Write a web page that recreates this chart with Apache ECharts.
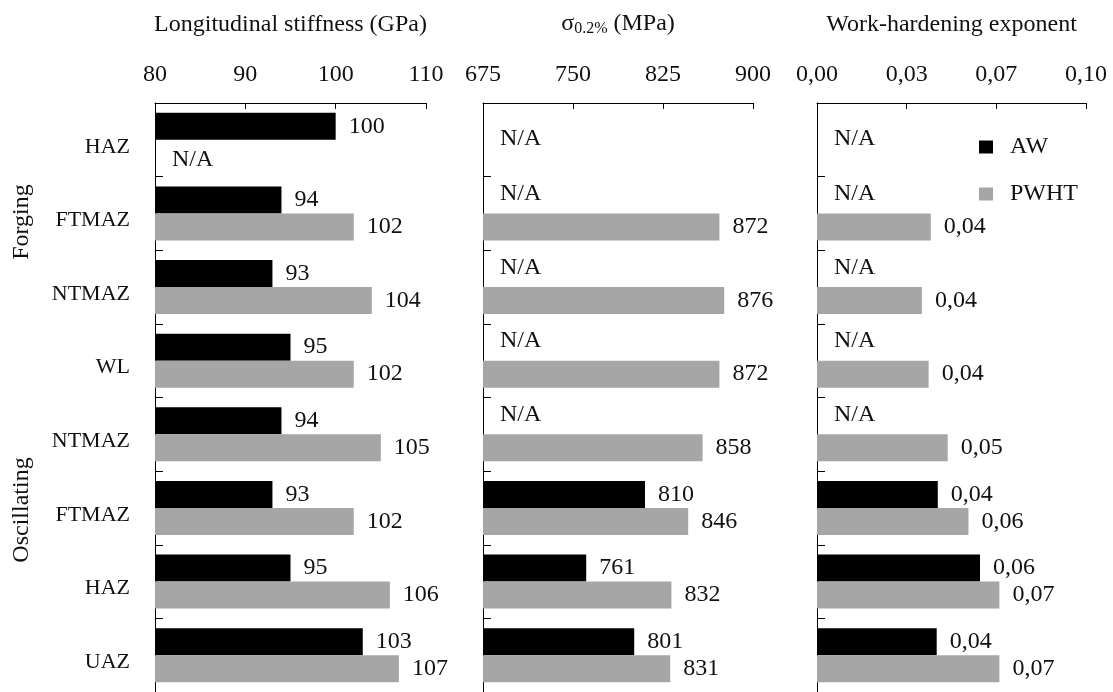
<!DOCTYPE html>
<html>
<head>
<meta charset="utf-8">
<script src="https://cdn.jsdelivr.net/npm/echarts@6/dist/echarts.min.js"></script>
<style>
  html, body { margin: 0; padding: 0; background: #fff; }
  #chart { width: 1113px; height: 692px; }
</style>
</head>
<body>
<div id="chart"></div>
<script>
// Weld zones, top to bottom (forging process, then oscillating process)
const categories = ['HAZ', 'FTMAZ', 'NTMAZ', 'WL', 'NTMAZ', 'FTMAZ', 'HAZ', 'UAZ'];
const seriesNames = ['AW', 'PWHT'];

// Longitudinal stiffness (GPa)
const stiffAW   = [100, 94, 93, 95, 94, 93, 95, 103];
const stiffPWHT = [null, 102, 104, 102, 105, 102, 106, 107];

// 0.2% proof stress (MPa)
const yieldAW   = [null, null, null, null, null, 810, 761, 801];
const yieldPWHT = [null, 872, 876, 872, 858, 846, 832, 831];

// Work-hardening exponent
const nAW   = [null, null, null, null, null, 0.0449, 0.0606, 0.0445];
const nPWHT = [null, 0.0423, 0.039, 0.0415, 0.0486, 0.0563, 0.0678, 0.0678];

// Axis ranges
const stiffTicks = { min: 80, max: 110, interval: 10 };
const yieldTicks = { min: 675, max: 900, interval: 75 };
const nTicks     = { min: 0, max: 0.1, interval: 0.1 / 3 };

const FONT = 'Liberation Serif';
const TXT = '#111';
const BLACK = '#000000';
const GREY = '#a6a6a6';

const comma2 = v => v.toFixed(2).replace('.', ',');

// Missing values become an empty bar at the axis start carrying an "N/A" label
function buildData(values, other, min, isAW) {
  return values.map((v, i) => {
    if (v != null) return v;
    const both = other[i] == null;
    if (both && !isAW) {
      return { value: min, itemStyle: { color: 'transparent' }, label: { show: false } };
    }
    const dy = both ? 12 : (isAW ? -6 : 6);
    return {
      value: min,
      itemStyle: { color: 'transparent' },
      label: { show: true, formatter: 'N/A', distance: 17, offset: [0, dy] }
    };
  });
}

const grids = [
  { left: 155, width: 271, top: 103, height: 592 },
  { left: 483, width: 270, top: 103, height: 592 },
  { left: 817, width: 269, top: 103, height: 592 }
];

function xAxisFor(idx, ticks, name, fmt) {
  return {
    type: 'value', gridIndex: idx, position: 'top',
    min: ticks.min, max: ticks.max, interval: ticks.interval,
    name: name, nameLocation: 'middle', nameGap: 66,
    nameTextStyle: {
      fontFamily: FONT, fontSize: 24, color: TXT,
      rich: {
        a: { fontFamily: FONT, fontSize: 24, color: TXT },
        b: { fontFamily: FONT, fontSize: 16, color: TXT, padding: [10, 0, 0, 0] }
      }
    },
    axisLine: { show: true, lineStyle: { color: '#000', width: 1 } },
    axisTick: { show: true, inside: true, length: 6, lineStyle: { color: '#000' } },
    axisLabel: {
      fontFamily: FONT, fontSize: 24, color: TXT, margin: 16,
      formatter: fmt || (v => String(v))
    },
    splitLine: { show: false }
  };
}

function yAxisFor(idx) {
  return {
    type: 'category', gridIndex: idx, data: categories, inverse: true,
    axisLine: { show: true, lineStyle: { color: '#000', width: 1 } },
    axisTick: { show: true, inside: true, length: 8, lineStyle: { color: '#000' } },
    axisLabel: {
      show: idx === 0, fontFamily: FONT, fontSize: 22, color: TXT, margin: 25,
      verticalAlign: 'top', lineHeight: 14
    },
    splitLine: { show: false }
  };
}

function barSeries(idx, name, color, data, fmt) {
  return {
    type: 'bar', name: name, xAxisIndex: idx, yAxisIndex: idx,
    data: data, barWidth: 27, barGap: '0%',
    itemStyle: { color: color },
    label: {
      show: true, position: 'right', distance: 13,
      fontFamily: FONT, fontSize: 24, color: TXT,
      formatter: fmt
    },
    animation: false
  };
}

const intFmt = p => String(p.value);
const nFmt = p => comma2(p.value);

const option = {
  animation: false,
  backgroundColor: '#fff',
  grid: grids,
  xAxis: [
    xAxisFor(0, stiffTicks, 'Longitudinal stiffness (GPa)'),
    xAxisFor(1, yieldTicks, '{a|σ}{b|0.2%}{a| (MPa)}'),
    xAxisFor(2, nTicks, 'Work-hardening exponent', v => comma2(v))
  ],
  yAxis: [yAxisFor(0), yAxisFor(1), yAxisFor(2)],
  legend: {
    orient: 'vertical', left: 979, top: 135, padding: 0,
    data: seriesNames, icon: 'rect', itemWidth: 14, itemHeight: 13, itemGap: 23,
    textStyle: { fontFamily: FONT, fontSize: 24, color: TXT, padding: [0, 0, 0, 12] }
  },
  series: [
    barSeries(0, 'AW', BLACK, buildData(stiffAW, stiffPWHT, stiffTicks.min, true), intFmt),
    barSeries(0, 'PWHT', GREY, buildData(stiffPWHT, stiffAW, stiffTicks.min, false), intFmt),
    barSeries(1, 'AW', BLACK, buildData(yieldAW, yieldPWHT, yieldTicks.min, true), intFmt),
    barSeries(1, 'PWHT', GREY, buildData(yieldPWHT, yieldAW, yieldTicks.min, false), intFmt),
    barSeries(2, 'AW', BLACK, buildData(nAW, nPWHT, nTicks.min, true), nFmt),
    barSeries(2, 'PWHT', GREY, buildData(nPWHT, nAW, nTicks.min, false), nFmt)
  ],
  graphic: [
    { type: 'text', x: 22, y: 222, rotation: Math.PI / 2,
      style: { text: 'Forging', fontFamily: FONT, fontSize: 24, fill: TXT, align: 'center', verticalAlign: 'middle' } },
    { type: 'text', x: 22, y: 510, rotation: Math.PI / 2,
      style: { text: 'Oscillating', fontFamily: FONT, fontSize: 24, fill: TXT, align: 'center', verticalAlign: 'middle' } }
  ]
};

const chart = echarts.init(document.getElementById('chart'), null, { renderer: 'canvas' });
chart.setOption(option);
</script>
</body>
</html>
